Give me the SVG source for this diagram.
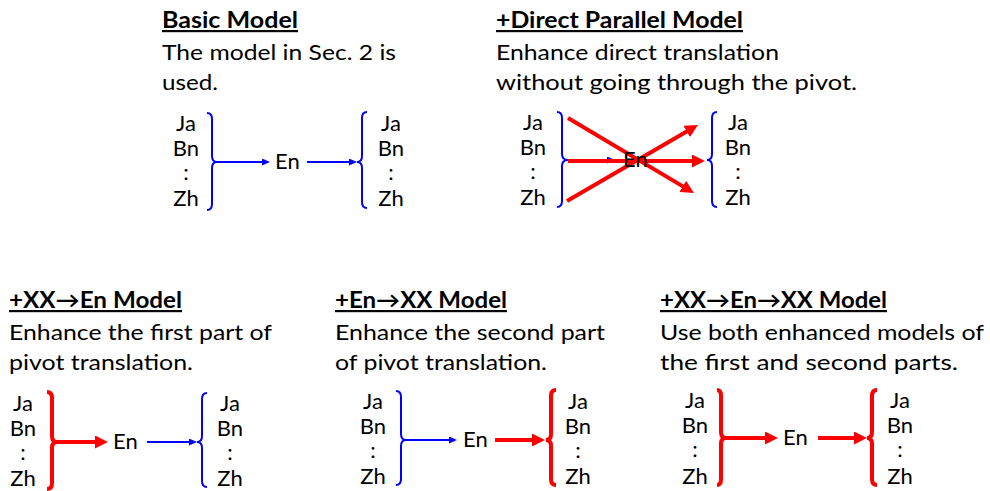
<svg xmlns="http://www.w3.org/2000/svg" width="990" height="491" viewBox="0 0 990 491">
<style>
text{font-family:Lato,"Noto Sans","DejaVu Sans",sans-serif;fill:#000}
.t{font-size:22px;font-weight:bold;text-decoration:underline}
.d{font-size:22px}
.n{font-size:22px;text-anchor:middle}
.e{font-size:22px}
.bb{fill:none;stroke:#0000ff;stroke-width:2}
.rb{fill:none;stroke:#ff0000;stroke-width:4}
.ba{stroke:#0000ff;stroke-width:2;fill:none}
.ra{stroke:#ff0000;stroke-width:4;fill:none}
</style>
<defs>
<marker id="bh" markerUnits="userSpaceOnUse" markerWidth="8" markerHeight="7" refX="2" refY="3.5" orient="auto"><path d="M0,0 L8,3.5 L0,7 z" fill="#0000ff"/></marker>
<marker id="rh" markerUnits="userSpaceOnUse" markerWidth="13" markerHeight="13" refX="3" refY="6.5" orient="auto"><path d="M0,0 L13,6.5 L0,13 z" fill="#ff0000"/></marker>
</defs>
<rect width="990" height="491" fill="#fff"/>

<g id="connectors">
<line class="ba" x1="217" y1="162" x2="264" y2="162" marker-end="url(#bh)"/>
<line class="ba" x1="307" y1="162" x2="351" y2="162" marker-end="url(#bh)"/>
<line class="ba" x1="568" y1="160" x2="609" y2="160" marker-end="url(#bh)"/>
<line class="ra" x1="568" y1="118" x2="685.4" y2="187.9" marker-end="url(#rh)"/>
<line class="ra" x1="567" y1="201" x2="689.3" y2="130" marker-end="url(#rh)"/>
<line class="ra" x1="568" y1="161" x2="695" y2="161" marker-end="url(#rh)"/>
<line class="ra" x1="57" y1="442" x2="98" y2="442" marker-end="url(#rh)"/>
<line class="ba" x1="147" y1="442" x2="191" y2="442" marker-end="url(#bh)"/>
<line class="ba" x1="406" y1="440" x2="451" y2="440" marker-end="url(#bh)"/>
<line class="ra" x1="495" y1="440" x2="535" y2="440" marker-end="url(#rh)"/>
<line class="ra" x1="726" y1="438" x2="768" y2="438" marker-end="url(#rh)"/>
<line class="ra" x1="818" y1="438" x2="857" y2="438" marker-end="url(#rh)"/>
</g>

<g id="basic">
<text class="t" x="162" y="28" textLength="136" lengthAdjust="spacingAndGlyphs">Basic Model</text>
<text class="d" x="162" y="60" textLength="234" lengthAdjust="spacingAndGlyphs">The model in Sec. 2 is</text>
<text class="d" x="162" y="90" textLength="56" lengthAdjust="spacingAndGlyphs">used.</text>
<text class="n" x="186" y="131">Ja</text><text class="n" x="186" y="156">Bn</text><text class="n" x="186" y="180">:</text><text class="n" x="186" y="206">Zh</text>
<path class="bb" d="M207,113 Q212,113 212,119 L212,156 Q212,162 217,162 Q212,162 212,168 L212,204 Q212,210 207,210"/>
<text class="e" x="275" y="169">En</text>
<path class="bb" d="M367,112 Q362,112 362,118 L362,156 Q362,162 357,162 Q362,162 362,168 L362,202 Q362,208 367,208"/>
<text class="n" x="391" y="131">Ja</text><text class="n" x="391" y="156">Bn</text><text class="n" x="391" y="180">:</text><text class="n" x="391" y="206">Zh</text>
</g>

<g id="direct">
<text class="t" x="496" y="28" textLength="247" lengthAdjust="spacingAndGlyphs">+Direct Parallel Model</text>
<text class="d" x="496" y="60" textLength="283" lengthAdjust="spacingAndGlyphs">Enhance direct translation</text>
<text class="d" x="496" y="90" textLength="361" lengthAdjust="spacingAndGlyphs">without going through the pivot.</text>
<text class="n" x="533" y="130">Ja</text><text class="n" x="533" y="155">Bn</text><text class="n" x="533" y="179">:</text><text class="n" x="533" y="205">Zh</text>
<path class="bb" d="M557,112 Q562,112 562,118 L562,154 Q562,160 568,160 Q562,160 562,166 L562,201 Q562,207 557,207"/>
<text class="e" x="623" y="167">En</text>
<path class="bb" d="M717,112 Q712,112 712,118 L712,154 Q712,160 707,160 Q712,160 712,166 L712,201 Q712,207 717,207"/>
<text class="n" x="738" y="130">Ja</text><text class="n" x="738" y="155">Bn</text><text class="n" x="738" y="179">:</text><text class="n" x="738" y="205">Zh</text>
</g>

<g id="xx-en">
<text class="t" x="9" y="308" textLength="173" lengthAdjust="spacingAndGlyphs">+XX→En Model</text>
<text class="d" x="9" y="340" textLength="263" lengthAdjust="spacingAndGlyphs">Enhance the first part of</text>
<text class="d" x="9" y="370" textLength="184" lengthAdjust="spacingAndGlyphs">pivot translation.</text>
<text class="n" x="23" y="411">Ja</text><text class="n" x="23" y="436">Bn</text><text class="n" x="23" y="460">:</text><text class="n" x="23" y="486">Zh</text>
<path class="rb" d="M47,392 Q52,392 52,398 L52,436 Q52,442 57,442 Q52,442 52,448 L52,483 Q52,489 47,489"/>
<text class="e" x="113" y="449">En</text>
<path class="bb" d="M207,393 Q202,393 202,399 L202,436 Q202,442 197,442 Q202,442 202,448 L202,481 Q202,487 207,487"/>
<text class="n" x="230" y="411">Ja</text><text class="n" x="230" y="436">Bn</text><text class="n" x="230" y="460">:</text><text class="n" x="230" y="486">Zh</text>
</g>

<g id="en-xx">
<text class="t" x="335" y="308" textLength="172" lengthAdjust="spacingAndGlyphs">+En→XX Model</text>
<text class="d" x="335" y="340" textLength="270" lengthAdjust="spacingAndGlyphs">Enhance the second part</text>
<text class="d" x="335" y="370" textLength="212" lengthAdjust="spacingAndGlyphs">of pivot translation.</text>
<text class="n" x="373" y="409">Ja</text><text class="n" x="373" y="434">Bn</text><text class="n" x="373" y="458">:</text><text class="n" x="373" y="484">Zh</text>
<path class="bb" d="M396,391 Q401,391 401,397 L401,434 Q401,440 406,440 Q401,440 401,446 L401,479 Q401,485 396,485"/>
<text class="e" x="463" y="447">En</text>
<path class="rb" d="M556,390 Q551,390 551,396 L551,434 Q551,440 546,440 Q551,440 551,446 L551,479 Q551,485 556,485"/>
<text class="n" x="578" y="409">Ja</text><text class="n" x="578" y="434">Bn</text><text class="n" x="578" y="458">:</text><text class="n" x="578" y="484">Zh</text>
</g>

<g id="xx-en-xx">
<text class="t" x="660" y="308" textLength="227" lengthAdjust="spacingAndGlyphs">+XX→En→XX Model</text>
<text class="d" x="660" y="340" textLength="324" lengthAdjust="spacingAndGlyphs">Use both enhanced models of</text>
<text class="d" x="660" y="370" textLength="298" lengthAdjust="spacingAndGlyphs">the first and second parts.</text>
<text class="n" x="695" y="408">Ja</text><text class="n" x="695" y="433">Bn</text><text class="n" x="695" y="457">:</text><text class="n" x="695" y="484">Zh</text>
<path class="rb" d="M717,390 Q721,390 721,396 L721,432 Q721,438 726,438 Q721,438 721,444 L721,479 Q721,485 717,485"/>
<text class="e" x="783" y="445">En</text>
<path class="rb" d="M877,390 Q872,390 872,396 L872,432 Q872,438 867,438 Q872,438 872,444 L872,479 Q872,485 877,485"/>
<text class="n" x="900" y="408">Ja</text><text class="n" x="900" y="433">Bn</text><text class="n" x="900" y="457">:</text><text class="n" x="900" y="484">Zh</text>
</g>
</svg>
